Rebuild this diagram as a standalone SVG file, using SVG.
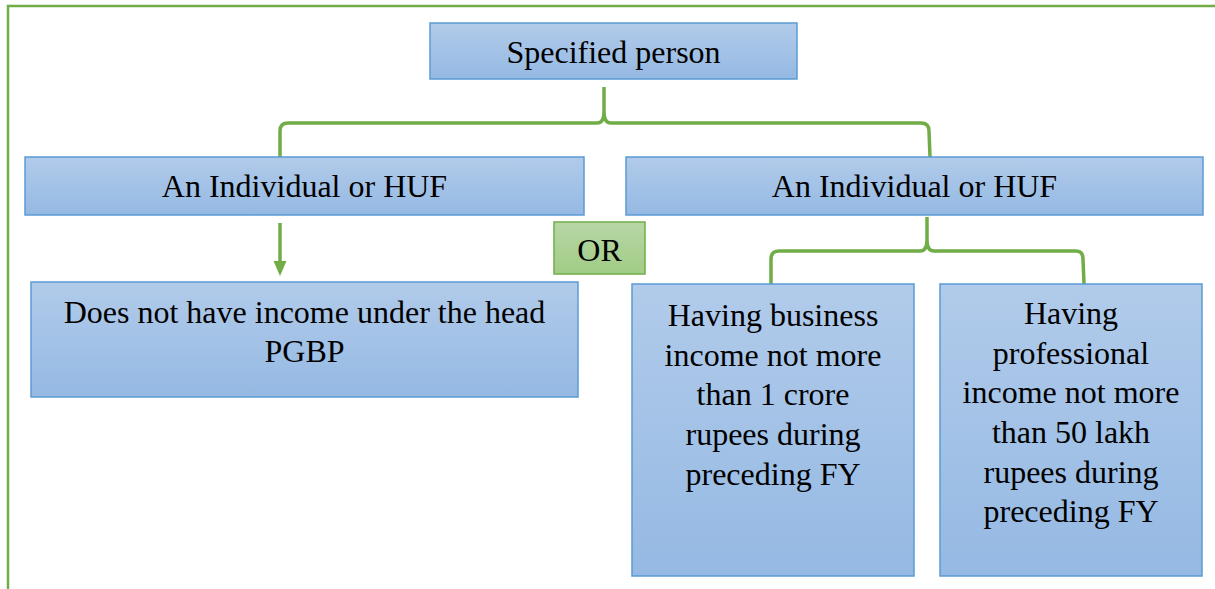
<svg xmlns="http://www.w3.org/2000/svg" width="1215" height="589" viewBox="0 0 1215 589">
<defs>
<linearGradient id="blue" x1="0" y1="0" x2="0" y2="1">
<stop offset="0" stop-color="#b1cbea"/>
<stop offset="1" stop-color="#95b9e3"/>
</linearGradient>
<linearGradient id="green" x1="0" y1="0" x2="0" y2="1">
<stop offset="0" stop-color="#b7d7a5"/>
<stop offset="1" stop-color="#a1cc86"/>
</linearGradient>
<style>
.box{fill:url(#blue);stroke:#5b9bd5;stroke-width:1.5}
.orbox{fill:url(#green);stroke:#70ad47;stroke-width:1.5}
.t{font-family:"Liberation Serif","Times New Roman",serif;font-size:32px;fill:#000;text-anchor:middle}
.conn{fill:none;stroke:#70ad47;stroke-width:3.5;stroke-linejoin:round}
.frame{fill:none;stroke:#70ad47;stroke-width:2.5}
</style>
</defs>
<path class="frame" d="M8,589 L8,6 L1215,6"/>
<g id="connectors">
<path class="conn" d="M280,157 L280,131 Q280,123 288,123 L597,123 Q604,123 604,112 L604,87 M604,112 Q604,123 611,123 L921,123 Q929,123 929,131 L930,157"/>
<path class="conn" d="M927,217 L927,240 Q927,251 920,251 L779,251 Q771,251 771,259 L771,284 M927,240 Q927,251 934,251 L1076,251 Q1083,251 1083,259 L1084,284"/>
<path class="conn" d="M280,223 L280,262"/>
<path d="M273.5,261 L286.5,261 L280,276 Z" fill="#70ad47"/>
</g>
<g id="n-specified">
<rect class="box" x="430" y="23" width="367" height="56"/>
<text class="t" x="613.5" y="63">Specified person</text>
</g>
<g id="n-huf-left">
<rect class="box" x="25" y="157" width="559" height="58"/>
<text class="t" x="304.5" y="197">An Individual or HUF</text>
</g>
<g id="n-huf-right">
<rect class="box" x="626" y="157" width="577" height="58"/>
<text class="t" x="914.5" y="197">An Individual or HUF</text>
</g>
<g id="n-or">
<rect class="orbox" x="554" y="222" width="91" height="52"/>
<text class="t" x="599.5" y="261">OR</text>
</g>
<g id="n-pgbp">
<rect class="box" x="31" y="282" width="547" height="115"/>
<text class="t" x="304.5" y="323">Does not have income under the head</text>
<text class="t" x="304.5" y="362">PGBP</text>
</g>
<g id="n-business">
<rect class="box" x="632" y="284" width="282" height="292"/>
<text class="t" x="773" y="326">Having business</text>
<text class="t" x="773" y="366">income not more</text>
<text class="t" x="773" y="405">than 1 crore</text>
<text class="t" x="773" y="445">rupees during</text>
<text class="t" x="773" y="485">preceding FY</text>
</g>
<g id="n-professional">
<rect class="box" x="940" y="284" width="262" height="292"/>
<text class="t" x="1071" y="324">Having</text>
<text class="t" x="1071" y="364">professional</text>
<text class="t" x="1071" y="403">income not more</text>
<text class="t" x="1071" y="443">than 50 lakh</text>
<text class="t" x="1071" y="483">rupees during</text>
<text class="t" x="1071" y="522">preceding FY</text>
</g>
</svg>
